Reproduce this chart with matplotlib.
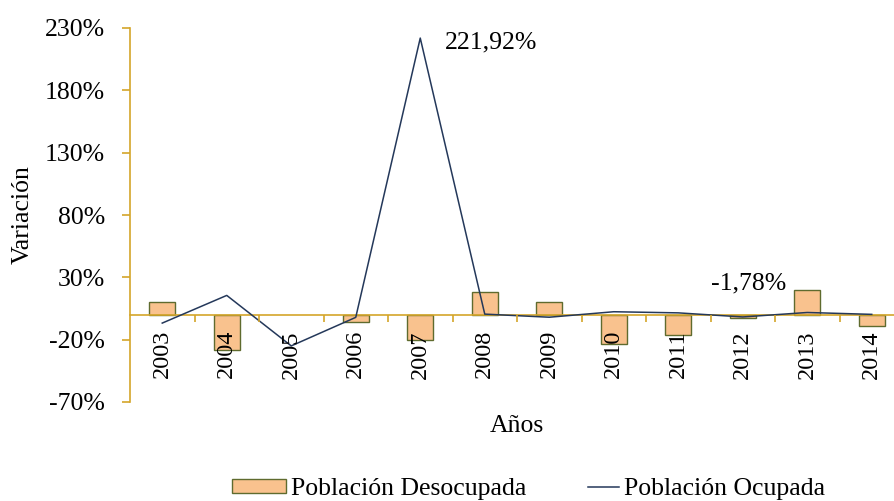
import matplotlib
matplotlib.use("Agg")
import matplotlib.pyplot as plt
from matplotlib.ticker import FuncFormatter, FixedLocator
from matplotlib.legend_handler import HandlerLine2D

years = ["2003", "2004", "2005", "2006", "2007", "2008", "2009", "2010", "2011", "2012", "2013", "2014"]
desocupada = [10.2, -28.0, float('nan'), -5.9, -20.6, 17.9, 10.2, -23.3, -16.3, -2.7, 19.5, -8.8]
ocupada = [-6.7, 15.5, -25.0, -2.1, 221.92, 0.5, -2.0, 2.4, 1.5, -1.78, 1.8, 0.3]
yticks = [-70, -20, 30, 80, 130, 180, 230]

plt.rcParams['font.family'] = ['Liberation Serif', 'DejaVu Serif']
FS = 18.5
AXC = '#D4A52A'


class ShortLineHandler(HandlerLine2D):
    def get_xdata(self, legend, xdescent, ydescent, width, height, fontsize):
        xs, xm = super().get_xdata(legend, xdescent, ydescent, width, height, fontsize)
        return [-xdescent + width * 0.43, -xdescent + width], xm


fig = plt.figure(figsize=(8.94, 5.01), dpi=100)
ax = fig.add_axes([130/894, 1 - 402/501, 774/894, 374/501])

x = list(range(len(years)))
bars = ax.bar(x, desocupada, width=0.4, color='#F9C28E', edgecolor='#5F6B2E', linewidth=1.0,
              label='Población Desocupada', zorder=2)
line, = ax.plot(x, ocupada, color='#24385A', linewidth=1.1, label='Población Ocupada', zorder=3)

ax.set_xlim(-0.5, len(years) - 0.5)
ax.set_ylim(-70, 230)
ax.set_yticks(yticks)
ax.yaxis.set_major_formatter(FuncFormatter(lambda v, p: f"{v:.0f}%"))

for s in ['top', 'right']:
    ax.spines[s].set_visible(False)
ax.spines['left'].set_color(AXC)
ax.spines['left'].set_linewidth(1.2)
ax.spines['bottom'].set_color(AXC)
ax.spines['bottom'].set_linewidth(1.2)
ax.spines['bottom'].set_position(('data', 0))
ax.spines['bottom'].set_zorder(2.5)
ax.xaxis.set_zorder(4)

ax.set_xticks(x)
ax.set_xticklabels(years, rotation=90)
ax.xaxis.set_minor_locator(FixedLocator([i + 0.5 for i in x[:-1]]))
ax.tick_params(axis='x', which='major', length=0, pad=11, labelsize=17.5)
ax.tick_params(axis='x', which='minor', length=5, width=1.2, color=AXC, direction='out')
ax.tick_params(axis='y', length=6, width=1.2, color=AXC, pad=12, labelsize=FS)

ax.set_ylabel('Variación', fontsize=FS)
ax.yaxis.set_label_coords(-0.125, 0.5)
ax.set_xlabel('Años', fontsize=FS)
ax.xaxis.set_label_coords(0.5, -0.035)

ax.annotate('221,92%', xy=(4, ocupada[4]), xytext=(18, -3), textcoords='offset points',
            ha='left', va='center', fontsize=FS)
ax.annotate('-1,78%', xy=(9, ocupada[9]), xytext=(4, 24), textcoords='offset points',
            ha='center', va='center', fontsize=FS)

ax.legend(handles=[bars, line], loc='center', bbox_to_anchor=(0.515, -0.233), ncol=2,
          frameon=False, fontsize=FS, handlelength=2.1, handleheight=0.5, handletextpad=0.2,
          columnspacing=1.5, handler_map={line: ShortLineHandler()})

fig.savefig('out.png', dpi=100)
